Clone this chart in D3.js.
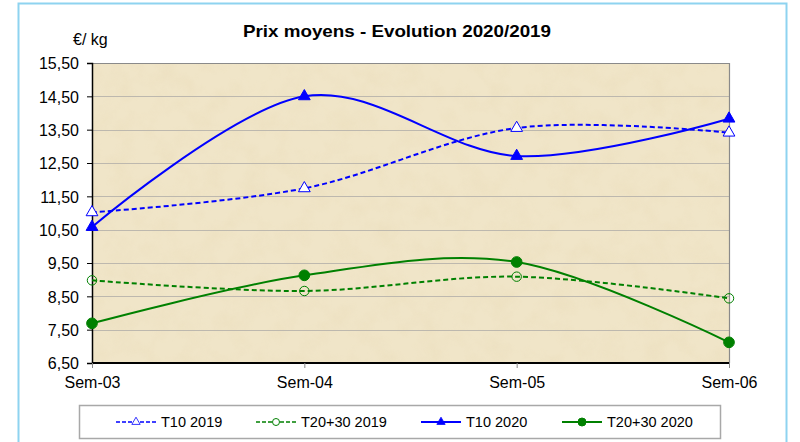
<!DOCTYPE html>
<html><head><meta charset="utf-8">
<script src="https://cdn.jsdelivr.net/npm/d3@7"></script>
<style>body{margin:0;background:#fff}svg{display:block;font-family:"Liberation Sans",Arial,sans-serif}</style>
</head><body><svg id="c" width="800" height="442"></svg>
<script>
const categories = ["Sem-03","Sem-04","Sem-05","Sem-06"];
const yTicks = [6.5,7.5,8.5,9.5,10.5,11.5,12.5,13.5,14.5,15.5];
const t10_2019 = [11.02, 11.74, 13.55, 13.41];
const t2030_2019 = [8.98, 8.66, 9.09, 8.44];
const t10_2020 = [10.58, 14.50, 12.71, 13.83];
const t2030_2020 = [7.69, 9.13, 9.53, 7.12];
const seriesNames = ["T10 2019","T20+30 2019","T10 2020","T20+30 2020"];

const series = [
  {name:seriesNames[0], values:t10_2019, color:"#0000ff", dash:"5,3", marker:"tri", fill:"#ffffff"},
  {name:seriesNames[1], values:t2030_2019, color:"#008000", dash:"5,3", marker:"circ", fill:"none"},
  {name:seriesNames[2], values:t10_2020, color:"#0000ff", dash:null, marker:"tri", fill:"#0000ff"},
  {name:seriesNames[3], values:t2030_2020, color:"#008000", dash:null, marker:"circ", fill:"#008000"}
];

const svg = d3.select("#c");
const L=92, R=729, T=63, B=363;
const x = d3.scalePoint().domain(categories).range([L,R]);
const y = d3.scaleLinear().domain([6.5,15.5]).range([B,T]);

// outer frame
svg.append("rect").attr("x",18.5).attr("y",3.5).attr("width",768).attr("height",450)
  .attr("fill","none").attr("stroke","#8ed3f0").attr("stroke-width",2);

// texture
const defs = svg.append("defs");
const f = defs.append("filter").attr("id","tex").attr("x",0).attr("y",0).attr("width","100%").attr("height","100%");
f.append("feTurbulence").attr("type","fractalNoise").attr("baseFrequency","0.045").attr("numOctaves",4).attr("seed",7).attr("result","n");
f.append("feColorMatrix").attr("in","n").attr("type","matrix")
  .attr("values","0 0 0 0 0.84  0 0 0 0 0.74  0 0 0 0 0.52  1.6 0 0 0 -0.62").attr("result","c");
f.append("feComposite").attr("in","c").attr("in2","SourceGraphic").attr("operator","in");

svg.append("rect").attr("x",L).attr("y",T).attr("width",R-L).attr("height",B-T).attr("fill","#f0e5c8");
svg.append("rect").attr("x",L).attr("y",T).attr("width",R-L).attr("height",B-T).attr("fill","#f0e5c8")
  .attr("filter","url(#tex)").attr("opacity",0.8);

// gridlines
svg.append("g").selectAll("line").data(yTicks.slice(1,-1)).join("line")
  .attr("x1",L).attr("x2",R).attr("y1",d=>Math.round(y(d))+0.5).attr("y2",d=>Math.round(y(d))+0.5)
  .attr("stroke","#bdb8ae").attr("stroke-width",1);

// top/right border
svg.append("path").attr("d",`M${L},${T+0.5}H${R+0.5}V${B}`).attr("fill","none").attr("stroke","#8a8a8a").attr("stroke-width",1.2);

// y axis
const fmt = d=>d3.format(".2f")(d).replace(".",",");
const ya = svg.append("g").attr("transform",`translate(${L},0)`)
  .call(d3.axisLeft(y).tickValues(yTicks).tickFormat(fmt).tickSize(5).tickPadding(8));
ya.select(".domain").attr("stroke","#000").attr("stroke-width",1.5);
ya.selectAll(".tick line").attr("stroke","#000");
ya.selectAll("text").attr("font-size",16).attr("font-family","Liberation Sans, Arial").attr("fill","#000").attr("dy","0.36em");

// x axis
const xa = svg.append("g").attr("transform",`translate(0,${B})`)
  .call(d3.axisBottom(x).tickSize(5).tickPadding(6));
xa.select(".domain").attr("stroke","#000").attr("stroke-width",2).attr("d",`M${L},0H${R}`);
xa.selectAll(".tick line").attr("stroke","#888");
xa.selectAll("text").attr("font-size",16).attr("font-family","Liberation Sans, Arial").attr("fill","#000").attr("dy","0.9em");

// lines
const line = d3.line().x((d,i)=>x(categories[i])).y(d=>y(d)).curve(d3.curveCardinal.tension(0));
const g = svg.append("g");
series.forEach(s=>{
  g.append("path").datum(s.values).attr("d",line).attr("fill","none")
    .attr("stroke",s.color).attr("stroke-width",2).attr("stroke-dasharray",s.dash);
});
function marker(sel,s,size){
  if(s.marker==="tri"){
    sel.append("path").attr("d",d3.symbol(d3.symbolTriangle,size)())
      .attr("fill",s.fill).attr("stroke",s.color).attr("stroke-width",1);
  } else {
    const r = Math.sqrt(size/Math.PI);
    sel.append("circle").attr("r",r).attr("fill",s.fill).attr("stroke",s.color).attr("stroke-width",1);
  }
}
series.forEach(s=>{
  s.values.forEach((v,i)=>{
    const m = g.append("g").attr("transform",`translate(${x(categories[i])},${y(v)})`);
    marker(m,s,s.marker==="tri"?60:(s.fill==="none"?70:90));
  });
});

// title
svg.append("text").attr("x",397).attr("y",36.5).attr("text-anchor","middle")
  .attr("font-size",17).attr("font-weight","bold").attr("textLength",308).attr("lengthAdjust","spacingAndGlyphs")
  .text("Prix moyens - Evolution 2020/2019");
svg.append("text").attr("x",73).attr("y",45).attr("font-size",16).text("€/ kg");

// legend
svg.append("rect").attr("x",79.5).attr("y",405.5).attr("width",641).attr("height",33)
  .attr("fill","#fff").attr("stroke","#a8a8a8").attr("stroke-width",1.5);
const legX = [116, 256, 421, 562];
series.forEach((s,i)=>{
  const lg = svg.append("g").attr("transform",`translate(${legX[i]},422)`);
  lg.append("line").attr("x1",0).attr("x2",40).attr("y1",0).attr("y2",0)
    .attr("stroke",s.color).attr("stroke-width",s.dash?1.5:2).attr("stroke-dasharray",s.dash?"4,2":null);
  const m = lg.append("g").attr("transform","translate(20,0)");
  if(s.marker==="tri"){
    m.append("path").attr("d",d3.symbol(d3.symbolTriangle,30)()).attr("fill",s.fill==="#ffffff"?"#fff":s.fill).attr("stroke",s.color).attr("stroke-width",0.8);
  } else {
    m.append("circle").attr("r",s.fill==="none"?3.5:4).attr("fill",s.fill==="none"?"#fff":s.fill).attr("stroke",s.color);
  }
  lg.append("text").attr("x",45).attr("y",5).attr("font-size",14.5).text(s.name);
});
</script></body></html>
